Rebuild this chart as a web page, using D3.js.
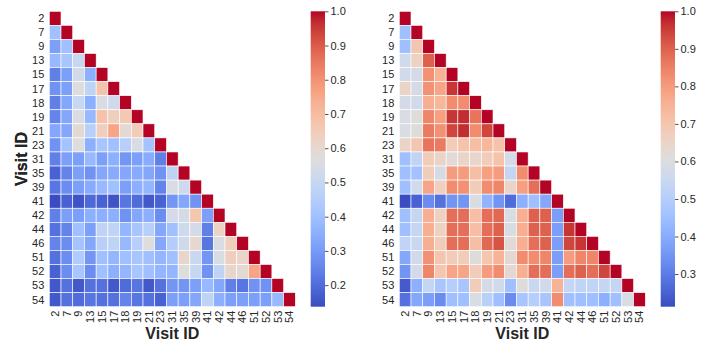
<!DOCTYPE html>
<html>
<head>
<meta charset="utf-8">
<script src="https://cdn.jsdelivr.net/npm/d3@7"></script>
<style>
  body { margin: 0; background: #fff; }
  text { font-family: Arial, "Liberation Sans", sans-serif; fill: #262626; }
</style>
</head>
<body>
<div id="chart"></div>
<script>
// visit ids (rows and columns of both matrices)
const visits = ["2", "7", "9", "13", "15", "17", "18", "19", "21", "23", "31",
    "35", "39", "41", "42", "44", "46", "51", "52", "53", "54"];

// lower triangle of the left matrix, one row per visit (diagonal = 1 not stored)
const leftRows = [
    [],
    [0.40],
    [0.31, 0.40],
    [0.38, 0.42, 0.50],
    [0.24, 0.31, 0.53, 0.35],
    [0.28, 0.31, 0.57, 0.48, 0.68],
    [0.24, 0.33, 0.50, 0.35, 0.55, 0.52],
    [0.25, 0.33, 0.56, 0.38, 0.68, 0.64, 0.66],
    [0.33, 0.33, 0.59, 0.46, 0.64, 0.76, 0.59, 0.65],
    [0.28, 0.41, 0.57, 0.35, 0.42, 0.40, 0.46, 0.55, 0.41],
    [0.24, 0.31, 0.31, 0.38, 0.31, 0.35, 0.29, 0.31, 0.34, 0.24],
    [0.18, 0.25, 0.31, 0.28, 0.33, 0.34, 0.33, 0.34, 0.33, 0.28, 0.48],
    [0.22, 0.27, 0.31, 0.34, 0.38, 0.40, 0.31, 0.35, 0.37, 0.25, 0.55, 0.52],
    [0.137, 0.18, 0.15, 0.19, 0.18, 0.15, 0.22, 0.20, 0.16, 0.18, 0.29, 0.33, 0.28],
    [0.24, 0.31, 0.31, 0.35, 0.35, 0.35, 0.28, 0.33, 0.35, 0.27, 0.54, 0.54, 0.67, 0.31],
    [0.21, 0.25, 0.40, 0.31, 0.48, 0.48, 0.37, 0.42, 0.46, 0.33, 0.40, 0.52, 0.54, 0.24, 0.62],
    [0.25, 0.27, 0.41, 0.33, 0.46, 0.48, 0.38, 0.46, 0.57, 0.33, 0.45, 0.52, 0.60, 0.22, 0.55, 0.64],
    [0.21, 0.27, 0.44, 0.29, 0.40, 0.37, 0.40, 0.42, 0.40, 0.37, 0.40, 0.61, 0.51, 0.29, 0.55, 0.64, 0.61],
    [0.18, 0.27, 0.42, 0.27, 0.40, 0.35, 0.37, 0.42, 0.40, 0.37, 0.37, 0.57, 0.50, 0.28, 0.48, 0.61, 0.59, 0.76],
    [0.16, 0.21, 0.16, 0.21, 0.21, 0.16, 0.20, 0.22, 0.16, 0.21, 0.29, 0.29, 0.31, 0.38, 0.33, 0.24, 0.22, 0.28, 0.28],
    [0.16, 0.21, 0.20, 0.22, 0.21, 0.21, 0.25, 0.22, 0.21, 0.18, 0.31, 0.31, 0.33, 0.48, 0.35, 0.31, 0.31, 0.31, 0.31, 0.38]
];

// lower triangle of the right matrix
const rightRows = [
    [],
    [0.45],
    [0.45, 0.70],
    [0.57, 0.66, 0.90],
    [0.57, 0.58, 0.82, 0.75],
    [0.65, 0.58, 0.82, 0.78, 0.96],
    [0.58, 0.57, 0.76, 0.74, 0.83, 0.83],
    [0.59, 0.61, 0.84, 0.79, 0.96, 0.97, 0.87],
    [0.59, 0.61, 0.86, 0.82, 0.94, 0.97, 0.83, 0.94],
    [0.65, 0.70, 0.87, 0.86, 0.68, 0.71, 0.72, 0.74, 0.71],
    [0.45, 0.53, 0.68, 0.65, 0.62, 0.65, 0.64, 0.68, 0.71, 0.58],
    [0.45, 0.46, 0.68, 0.58, 0.80, 0.80, 0.72, 0.79, 0.80, 0.54, 0.83],
    [0.45, 0.57, 0.78, 0.67, 0.83, 0.82, 0.68, 0.83, 0.84, 0.65, 0.79, 0.88],
    [0.213, 0.25, 0.33, 0.28, 0.35, 0.35, 0.59, 0.42, 0.35, 0.27, 0.41, 0.45, 0.39],
    [0.45, 0.54, 0.76, 0.66, 0.88, 0.88, 0.72, 0.88, 0.89, 0.59, 0.76, 0.90, 0.90, 0.37],
    [0.45, 0.54, 0.76, 0.66, 0.88, 0.88, 0.72, 0.88, 0.90, 0.59, 0.76, 0.90, 0.90, 0.37, 0.96],
    [0.53, 0.55, 0.76, 0.68, 0.88, 0.88, 0.72, 0.89, 0.92, 0.62, 0.76, 0.88, 0.90, 0.37, 0.94, 0.96],
    [0.39, 0.57, 0.82, 0.70, 0.68, 0.68, 0.61, 0.70, 0.75, 0.63, 0.83, 0.83, 0.84, 0.37, 0.80, 0.84, 0.84],
    [0.35, 0.58, 0.84, 0.70, 0.78, 0.78, 0.68, 0.80, 0.83, 0.63, 0.76, 0.88, 0.88, 0.37, 0.88, 0.90, 0.88, 0.94],
    [0.24, 0.41, 0.54, 0.47, 0.50, 0.47, 0.68, 0.58, 0.57, 0.45, 0.61, 0.55, 0.57, 0.75, 0.54, 0.53, 0.53, 0.54, 0.54],
    [0.28, 0.39, 0.37, 0.33, 0.45, 0.45, 0.59, 0.51, 0.45, 0.33, 0.47, 0.50, 0.47, 0.83, 0.45, 0.45, 0.45, 0.41, 0.45, 0.59]
];

const axisLabel = "Visit ID";

// matplotlib "coolwarm" control colours
const coolwarm = ["#3b4cc0", "#445acc", "#4d68d7", "#5775e1", "#6282ea", "#6c8ef1",
    "#779af7", "#82a5fb", "#8db0fe", "#98b9ff", "#a3c2ff", "#aec9fd", "#b8d0f9",
    "#c2d5f4", "#ccd9ee", "#d5dbe6", "#dddddd", "#e5d8d1", "#ecd3c5", "#f1ccb9",
    "#f5c4ad", "#f7bba0", "#f7b194", "#f7a687", "#f49a7b", "#f18d6f", "#ec7f63",
    "#e57058", "#de604d", "#d55042", "#cb3e38", "#c0282f", "#b40426"];

const cwScale = d3.scaleLinear()
    .domain(coolwarm.map((c, i) => i / (coolwarm.length - 1)))
    .range(coolwarm)
    .interpolate(d3.interpolateRgb);

const svg = d3.select("#chart").append("svg")
    .attr("width", 710)
    .attr("height", 345);

function drawHeatmap(id, rows, left) {
    const top = 11.3, w = 246, h = 295.4;
    const g = svg.append("g").attr("transform", `translate(${left},${top})`);

    // flatten to cells, diagonal filled with 1
    let cells = [];
    rows.forEach((r, i) => {
        r.forEach((v, j) => cells.push({ row: visits[i], col: visits[j], v: v }));
        cells.push({ row: visits[i], col: visits[i], v: 1 });
    });

    const vmin = d3.min(cells, d => d.v), vmax = 1;
    const color = v => cwScale((v - vmin) / (vmax - vmin));

    const x = d3.scaleBand().domain(visits).range([0, w]);
    const y = d3.scaleBand().domain(visits).range([0, h]);

    g.selectAll("rect.cell")
        .data(cells)
        .enter().append("rect")
        .attr("class", "cell")
        .attr("x", d => x(d.col))
        .attr("y", d => y(d.row))
        .attr("width", x.bandwidth())
        .attr("height", y.bandwidth())
        .attr("fill", d => color(d.v))
        .attr("stroke", "#fff")
        .attr("stroke-width", 0.6);

    // y tick labels
    g.selectAll("text.ylab")
        .data(visits)
        .enter().append("text")
        .attr("class", "ylab")
        .attr("x", -5)
        .attr("y", d => y(d) + y.bandwidth() / 2)
        .attr("dy", "0.35em")
        .attr("text-anchor", "end")
        .style("font-size", "11px")
        .text(d => d);

    // x tick labels, rotated
    g.selectAll("text.xlab")
        .data(visits)
        .enter().append("text")
        .attr("class", "xlab")
        .attr("transform", d => `translate(${x(d) + x.bandwidth() / 2},${h + 4}) rotate(-90)`)
        .attr("dy", "0.35em")
        .attr("text-anchor", "end")
        .style("font-size", "11px")
        .text(d => d);

    g.append("text")
        .attr("x", w / 2)
        .attr("y", h + 32)
        .attr("text-anchor", "middle")
        .style("font-size", "16px")
        .style("font-weight", "bold")
        .text(axisLabel);

    g.append("text")
        .attr("transform", `translate(${-left + 27},${h / 2}) rotate(-90)`)
        .attr("text-anchor", "middle")
        .style("font-size", "16px")
        .style("font-weight", "bold")
        .text(axisLabel);

    // colour bar
    const cbX = w + 15.4, cbW = 14.3;
    const cy = d3.scaleLinear().domain([vmin, vmax]).range([h, 0]);

    const grad = svg.append("defs").append("linearGradient")
        .attr("id", "grad-" + id)
        .attr("x1", 0).attr("y1", 1).attr("x2", 0).attr("y2", 0);
    grad.selectAll("stop")
        .data(coolwarm)
        .enter().append("stop")
        .attr("offset", (c, i) => i / (coolwarm.length - 1))
        .attr("stop-color", c => c);

    g.append("rect")
        .attr("x", cbX)
        .attr("y", 0)
        .attr("width", cbW)
        .attr("height", h)
        .attr("fill", `url(#grad-${id})`);

    const cbAxis = d3.axisRight(cy)
        .ticks(8)
        .tickSize(3.5)
        .tickPadding(2)
        .tickFormat(d3.format(".1f"));

    const ag = g.append("g")
        .attr("transform", `translate(${cbX + cbW},0)`)
        .call(cbAxis);
    ag.select(".domain").remove();
    ag.selectAll("line").attr("stroke", "#262626").attr("stroke-width", 0.8);
    ag.selectAll("text")
        .style("font-size", "11px")
        .style("font-family", 'Arial, "Liberation Sans", sans-serif')
        .attr("fill", "#262626");
}

drawHeatmap("left", leftRows, 49.3);
drawHeatmap("right", rightRows, 399.3);
</script>
</body>
</html>
